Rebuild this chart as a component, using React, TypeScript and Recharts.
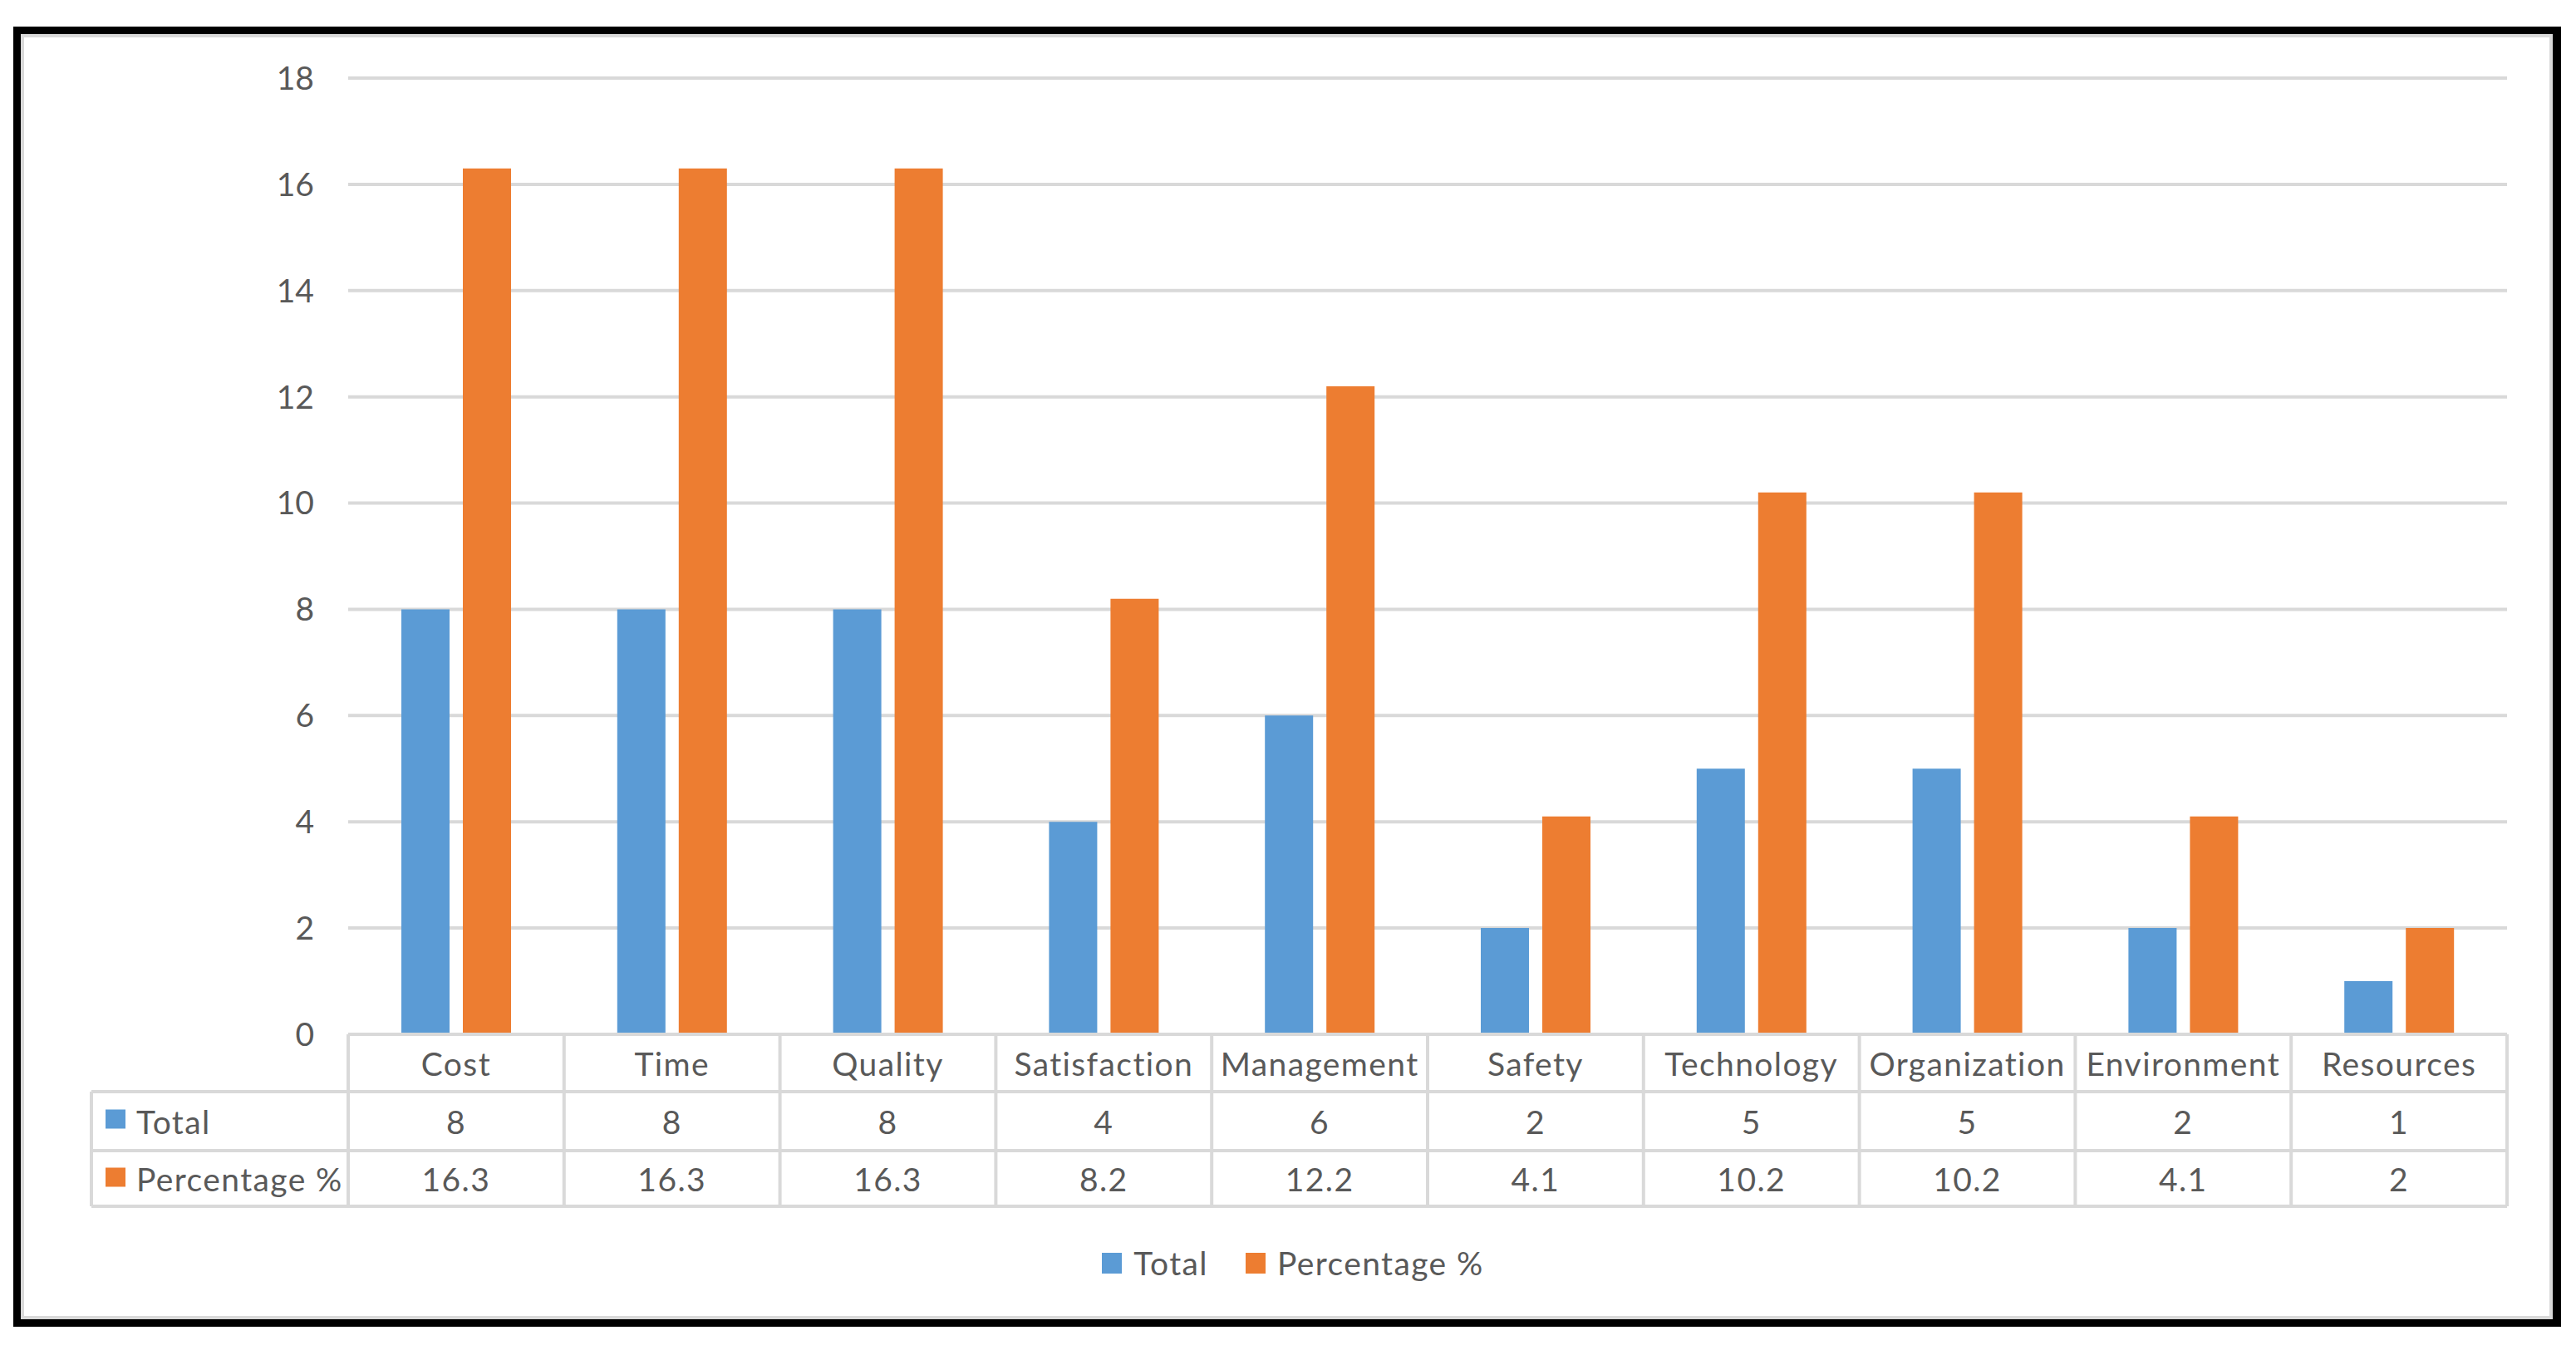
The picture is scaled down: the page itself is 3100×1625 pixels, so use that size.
import React from "react"
import { BarChart, Bar, XAxis, YAxis, CartesianGrid, Legend } from "recharts"

const categories = ["Cost", "Time", "Quality", "Satisfaction", "Management", "Safety", "Technology", "Organization", "Environment", "Resources"]
const totals = [8, 8, 8, 4, 6, 2, 5, 5, 2, 1]
const percentages = [16.3, 16.3, 16.3, 8.2, 12.2, 4.1, 10.2, 10.2, 4.1, 2]
const seriesNames = ["Total", "Percentage %"]
const yTicks = [0, 2, 4, 6, 8, 10, 12, 14, 16, 18]

const data = categories.map((name, i) => ({ name, total: totals[i], pct: percentages[i] }))

const BLUE = "#5B9BD5"
const ORANGE = "#ED7D31"
const GRID = "#D9D9D9"
const TEXT = "#595959"
const FONT = "Lato, 'Open Sans', sans-serif"
const FS = 39
const LS = 1.4

const W = 3100
const H = 1625
const PLOT_LEFT = 419
const PLOT_RIGHT = 3017
const PLOT_TOP = 94
const PLOT_BOTTOM = 1245
const BAND = (PLOT_RIGHT - PLOT_LEFT) / categories.length
const TABLE_LEFT = 110
const ROW1 = 1314
const ROW2 = 1385
const ROW3 = 1452
const LW = 4

function TableTick(props: any) {
  const { x, payload } = props
  const i = props.index != null ? props.index : categories.indexOf(payload.value)
  const left = x - BAND / 2
  const right = x + BAND / 2
  const txt = { fill: TEXT, fontSize: FS, fontFamily: FONT, letterSpacing: LS, textAnchor: "middle" as const, dominantBaseline: "central" as const }
  return (
    <g>
      <line x1={left} x2={left} y1={PLOT_BOTTOM} y2={ROW3} stroke={GRID} strokeWidth={LW} />
      {i === categories.length - 1 && (
        <line x1={right} x2={right} y1={PLOT_BOTTOM} y2={ROW3} stroke={GRID} strokeWidth={LW} />
      )}
      {i === 0 && (
        <g>
          <line x1={PLOT_LEFT} x2={PLOT_RIGHT} y1={PLOT_BOTTOM} y2={PLOT_BOTTOM} stroke={GRID} strokeWidth={LW} />
          <line x1={TABLE_LEFT} x2={PLOT_RIGHT} y1={ROW1} y2={ROW1} stroke={GRID} strokeWidth={LW} />
          <line x1={TABLE_LEFT} x2={PLOT_RIGHT} y1={ROW2} y2={ROW2} stroke={GRID} strokeWidth={LW} />
          <line x1={TABLE_LEFT} x2={PLOT_RIGHT} y1={ROW3} y2={ROW3} stroke={GRID} strokeWidth={LW} />
          <line x1={TABLE_LEFT} x2={TABLE_LEFT} y1={ROW1} y2={ROW3} stroke={GRID} strokeWidth={LW} />
          <rect x={127} y={(ROW1 + ROW2) / 2 - 14} width={24} height={23} fill={BLUE} />
          <text x={164} y={(ROW1 + ROW2) / 2} fill={TEXT} fontSize={FS} fontFamily={FONT} letterSpacing={LS} dominantBaseline="central">{seriesNames[0]}</text>
          <rect x={127} y={(ROW2 + ROW3) / 2 - 13} width={24} height={23} fill={ORANGE} />
          <text x={164} y={(ROW2 + ROW3) / 2} fill={TEXT} fontSize={FS} fontFamily={FONT} letterSpacing={LS} dominantBaseline="central">{seriesNames[1]}</text>
        </g>
      )}
      <text x={x} y={(PLOT_BOTTOM + ROW1) / 2} {...txt}>{payload.value}</text>
      <text x={x} y={(ROW1 + ROW2) / 2} {...txt}>{totals[i]}</text>
      <text x={x} y={(ROW2 + ROW3) / 2} {...txt}>{percentages[i]}</text>
    </g>
  )
}

function LegendContent(props: any) {
  const items = [...(props.payload || [])].sort(
    (a: any, b: any) => seriesNames.indexOf(a.value) - seriesNames.indexOf(b.value)
  )
  return (
    <div style={{ display: "flex", justifyContent: "center", alignItems: "center", height: 60, paddingLeft: 12, fontFamily: FONT, fontSize: FS, letterSpacing: LS, color: TEXT }}>
      {items.map((it: any, k: number) => (
        <div key={k} style={{ display: "flex", alignItems: "center", marginRight: k === 0 ? 45 : 0 }}>
          <span style={{ display: "inline-block", width: 24, height: 25, background: it.color, marginRight: 14 }} />
          <span>{it.value}</span>
        </div>
      ))}
    </div>
  )
}

export default function App() {
  return (
    <div style={{ position: "absolute", left: 0, top: 0, width: W, height: H, background: "#fff" }}>
      <div style={{ position: "absolute", left: 16, top: 32, width: 3082 - 16, height: 1597 - 32, boxSizing: "border-box", borderStyle: "solid", borderColor: "#000", borderWidth: "9px 10px 9px 9px" }}>
        <div style={{ width: "100%", height: "100%", boxSizing: "border-box", border: `4px solid ${GRID}` }} />
      </div>
      <div style={{ position: "absolute", left: 0, top: 0 }}>
        <BarChart
          width={W}
          height={H}
          data={data}
          margin={{ top: PLOT_TOP, right: W - PLOT_RIGHT, bottom: H - PLOT_BOTTOM - 220, left: 0 }}
          barSize={58}
          barGap={16}
        >
          <CartesianGrid vertical={false} stroke={GRID} strokeWidth={LW} />
          <XAxis
            dataKey="name"
            height={220}
            axisLine={false}
            tickLine={false}
            tickSize={0}
            tickMargin={0}
            interval={0}
            tick={<TableTick />}
          />
          <YAxis
            width={PLOT_LEFT}
            domain={[0, 18]}
            ticks={yTicks}
            axisLine={false}
            tickLine={false}
            tickSize={0}
            tickMargin={41}
            tick={{ fill: TEXT, fontSize: FS, fontFamily: FONT }}
          />
          <Legend
            layout="horizontal"
            verticalAlign="middle"
            align="center"
            wrapperStyle={{ top: 1490, left: 0, width: W }}
            content={<LegendContent />}
          />
          <Bar dataKey="total" name={seriesNames[0]} fill={BLUE} isAnimationActive={false} />
          <Bar dataKey="pct" name={seriesNames[1]} fill={ORANGE} isAnimationActive={false} />
        </BarChart>
      </div>
    </div>
  )
}
